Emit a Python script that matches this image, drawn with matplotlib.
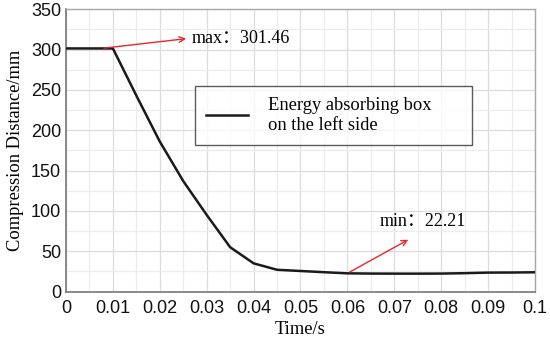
import matplotlib
matplotlib.use('Agg')
from matplotlib import pyplot as plt
from matplotlib import ticker

# Data
time_s = [0.0, 0.005, 0.01, 0.015, 0.02, 0.025, 0.03, 0.035, 0.04, 0.045,
          0.05, 0.055, 0.06, 0.065, 0.07, 0.075, 0.08, 0.085, 0.09, 0.095, 0.1]
distance_mm = [301.46, 301.46, 301.46, 243, 186, 137, 95, 55, 35, 27,
               25.5, 24, 22.6, 22.3, 22.21, 22.2, 22.3, 22.8, 23.5, 23.6, 23.9]
x_ticks = [0, 0.01, 0.02, 0.03, 0.04, 0.05, 0.06, 0.07, 0.08, 0.09, 0.1]
x_tick_labels = ['0', '0.01', '0.02', '0.03', '0.04', '0.05', '0.06', '0.07', '0.08', '0.09', '0.1']
y_ticks = [0, 50, 100, 150, 200, 250, 300, 350]

serif = ['Liberation Serif', 'Noto Sans CJK SC']
sans = 'Liberation Sans'

fig = plt.figure(figsize=(5.5, 3.41), dpi=100)
ax = fig.add_axes([0.12, 0.145, 0.8527, 0.8277])

ax.plot(time_s, distance_mm, c='#1a1a1a', lw=1.8, label='Energy absorbing box\non the left side', zorder=3)

ax.set_xlim(0, 0.1)
ax.set_ylim(0, 350)
ax.set_xticks(x_ticks)
ax.set_xticklabels(x_tick_labels)
ax.set_yticks(y_ticks)
ax.xaxis.set_minor_locator(ticker.MultipleLocator(0.005))
ax.yaxis.set_minor_locator(ticker.MultipleLocator(25))
ax.grid(which='major', c='#dcdcdc', lw=0.9, zorder=0)
ax.grid(which='minor', c='#ececec', lw=0.9, zorder=0)
ax.tick_params(which='both', length=0)
ax.tick_params(axis='x', pad=6)
ax.tick_params(axis='y', pad=3.5)
for lab in ax.get_xticklabels() + ax.get_yticklabels():
    lab.set_fontfamily(sans)
    lab.set_fontsize(13)
    lab.set_color('#111111')

for side in ['left', 'bottom']:
    ax.spines[side].set_color('#777777')
    ax.spines[side].set_linewidth(1.2)
for side in ['top', 'right']:
    ax.spines[side].set_color('#a8a8a8')
    ax.spines[side].set_linewidth(1.0)

ax.set_xlabel('Time/s', family=serif, fontsize=13.3, labelpad=3)
ax.set_ylabel('Compression Distance/mm', family=serif, fontsize=13.3, labelpad=5)

# Annotations
ax.annotate('', xy=(0.0262, 314), xytext=(0.0075, 301.46),
            arrowprops=dict(arrowstyle='->', color='#e8262a', lw=1.0))
ax.text(0.0268, 314, 'max：301.46', family=serif, fontsize=13, va='center', ha='left')
ax.annotate('', xy=(0.0735, 66), xytext=(0.06, 22.6),
            arrowprops=dict(arrowstyle='->', color='#e8262a', lw=1.0))
ax.text(0.0669, 87, 'min：22.21', family=serif, fontsize=13, va='center', ha='left')

leg = ax.legend(loc='upper left', bbox_to_anchor=(0.2748, 0.512, 0.59, 0.216), mode='expand',
                frameon=True, fancybox=False, prop={'family': serif, 'size': 13.3},
                handlelength=2.27, handletextpad=1.1, borderpad=0.6, borderaxespad=0)
leg.get_frame().set_edgecolor('#333333')
leg.get_frame().set_linewidth(1.0)

fig.set_facecolor('w')
plt.savefig('out.png', dpi=100)
